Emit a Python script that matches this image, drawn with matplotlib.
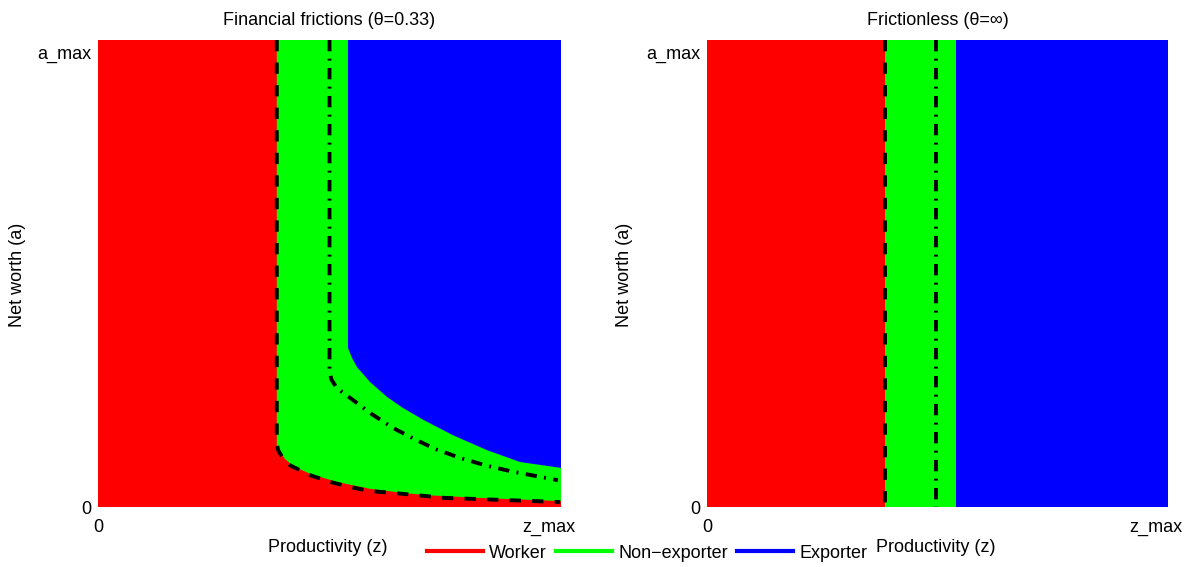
import numpy as np
import matplotlib
matplotlib.use("Agg")
import matplotlib.pyplot as plt
from matplotlib.lines import Line2D

plt.rcParams['font.family'] = ['Liberation Sans', 'DejaVu Sans']
plt.rcParams['font.size'] = 13

# axis extent (ticks sit at 1 = z_max / a_max)
ZLIM = 1.028
ALIM = 1.028

# --- financial frictions panel: occupation thresholds ---
# worker / non-exporter boundary
fin_worker_z = [0.397, 0.397, 0.404, 0.415, 0.433, 0.471, 0.531, 0.604, 0.677, 0.730, 0.848, 1.028]
fin_worker_a = [1.028, 0.136, 0.121, 0.106, 0.090, 0.073, 0.055, 0.040, 0.031, 0.026, 0.020, 0.013]
# non-exporter / exporter boundary
fin_export_z = [0.555, 0.555, 0.564, 0.575, 0.604, 0.642, 0.677, 0.722, 0.788, 0.864, 0.937, 1.028]
fin_export_a = [1.028, 0.350, 0.328, 0.308, 0.275, 0.242, 0.218, 0.192, 0.158, 0.125, 0.099, 0.086]
# dashed threshold line
fin_dash_z = [0.397, 0.397, 0.400, 0.410, 0.426, 0.471, 0.516, 0.560, 0.604, 0.655, 0.708, 0.771, 1.026]
fin_dash_a = [1.028, 0.140, 0.125, 0.108, 0.092, 0.070, 0.055, 0.044, 0.035, 0.031, 0.026, 0.020, 0.011]
# dash-dot threshold line
fin_dd_z = [0.514, 0.514, 0.518, 0.530, 0.560, 0.604, 0.655, 0.708, 0.748, 0.804, 0.859, 0.915, 1.021]
fin_dd_a = [1.028, 0.300, 0.281, 0.262, 0.240, 0.207, 0.174, 0.147, 0.128, 0.108, 0.092, 0.079, 0.059]

# --- frictionless panel: thresholds don't depend on net worth ---
nof_worker_z = 0.397
nof_export_z = 0.555
nof_dash_z = 0.397
nof_dd_z = 0.511

titles = ["Financial frictions (\u03b8=0.33)", "Frictionless (\u03b8=\u221e)"]
labels = ["Worker", "Non\u2212exporter", "Exporter"]
colors = ["#ff0000", "#00ff00", "#0000ff"]

DASH = (0, (2.9, 2.9))
DASHDOT = (0, (2.9, 1.9, 0.5, 1.9))

fig = plt.figure(figsize=(11.98, 5.67), dpi=100, facecolor="white")
ax1 = fig.add_axes([98/1198, 60/567, 463/1198, 467/567])
ax2 = fig.add_axes([707/1198, 60/567, 461/1198, 467/567])

panels = [
    (ax1, fin_worker_z, fin_worker_a, fin_export_z, fin_export_a,
     fin_dash_z, fin_dash_a, fin_dd_z, fin_dd_a),
    (ax2, [nof_worker_z, nof_worker_z], [ALIM, 0], [nof_export_z, nof_export_z], [ALIM, 0],
     [nof_dash_z, nof_dash_z], [ALIM, 0], [nof_dd_z, nof_dd_z], [ALIM, 0]),
]

for i, (ax, wz, wa, ez, ea, dz, da, ddz, dda) in enumerate(panels):
    ax.set_facecolor(colors[0])
    # non-exporter region: right of / above worker threshold
    ax.fill(list(wz) + [ZLIM, ZLIM], list(wa) + [wa[-1], ALIM], color=colors[1], lw=0)
    # exporter region
    ax.fill(list(ez) + [ZLIM, ZLIM], list(ea) + [ea[-1], ALIM], color=colors[2], lw=0)
    ax.plot(dz, da, color="black", lw=2.8, linestyle=DASH)
    ax.plot(ddz, dda, color="black", lw=2.8, linestyle=DASHDOT)

    ax.set_xlim(0, ZLIM)
    ax.set_ylim(0, ALIM)
    ax.set_xticks([0, 1])
    ax.set_xticklabels(["0", "z_max"])
    ax.set_yticks([0, 1])
    ax.set_yticklabels(["0", "a_max"])
    ax.tick_params(length=0)
    ax.tick_params(axis="x", pad=9)
    ax.tick_params(axis="y", pad=5)
    for s in ax.spines.values():
        s.set_visible(False)

    ax.set_title(titles[i], fontsize=13, pad=11)
    ax.set_xlabel("Productivity (z)", va="center")
    ax.xaxis.set_label_coords(0.497, -0.086)
    ax.set_ylabel("Net worth (a)", va="center")
    ax.yaxis.set_label_coords(-0.173 if i == 0 else -0.178, 0.497)

handles = [Line2D([], [], color=c, lw=3) for c in colors]
fig.legend(handles, labels, loc="center", bbox_to_anchor=(647/1198, 14/567), ncol=3,
           frameon=False, handlelength=3.1, handletextpad=0.35, columnspacing=0.5,
           borderpad=0, fontsize=13)

plt.savefig("out.png", dpi=100)
